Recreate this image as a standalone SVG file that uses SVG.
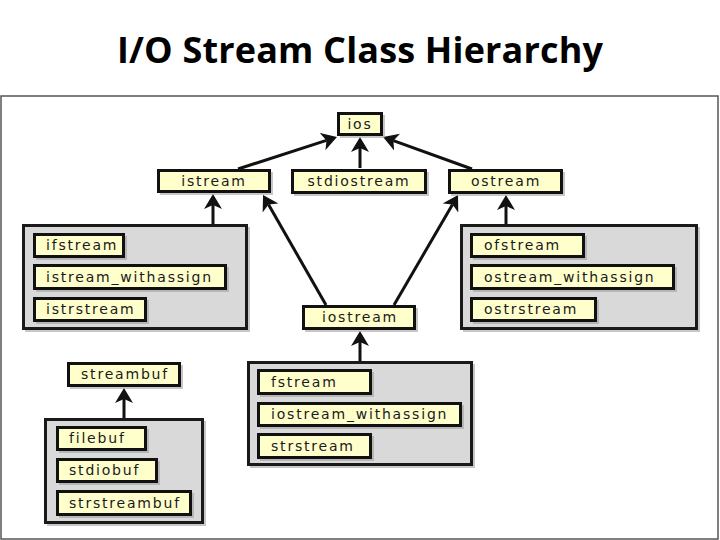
<svg xmlns="http://www.w3.org/2000/svg" width="720" height="540" viewBox="0 0 720 540">
<style>
.title{font-family:"Open Sans","Liberation Sans",sans-serif;font-weight:700;font-size:36px;fill:#000}
.frame{fill:#fff;stroke:#555;stroke-width:1.5}
.grp{fill:#d9d9d9;stroke:#1a1a1a;stroke-width:3}
.box{fill:#ffffcc;stroke:#111;stroke-width:3}
.sh{fill:#999;opacity:0.55}
.lbl{font-family:"DejaVu Sans",Verdana,sans-serif;font-size:14px;letter-spacing:1.8px;fill:#1a1a1a}
.c{text-anchor:middle}
.edge{fill:none;stroke:#111;stroke-width:3}
</style>
<defs>
<marker id="ah" viewBox="0 0 15 18" refX="4" refY="9" markerWidth="15" markerHeight="18" markerUnits="userSpaceOnUse" orient="auto">
<path d="M0,0 L15,9 L0,18 L4,9 z" fill="#111"/>
</marker>
</defs>
<rect width="720" height="540" fill="#fff"/>
<text class="title" x="360" y="63" text-anchor="middle" textLength="486" lengthAdjust="spacing">I/O Stream Class Hierarchy</text>
<rect class="frame" x="1" y="96" width="717" height="443"/>

<g id="connectors">
<path class="edge" marker-end="url(#ah)" d="M238,169 L326.5,140.4"/>
<path class="edge" marker-end="url(#ah)" d="M360,168 L360,148"/>
<path class="edge" marker-end="url(#ah)" d="M472,169 L393.4,140.7"/>
<path class="edge" marker-end="url(#ah)" d="M213,224 L213,205"/>
<path class="edge" marker-end="url(#ah)" d="M506,224 L506,206"/>
<path class="edge" marker-end="url(#ah)" d="M326,305 L268.5,204.5"/>
<path class="edge" marker-end="url(#ah)" d="M394,305 L452.5,204.5"/>
<path class="edge" marker-end="url(#ah)" d="M360,361 L360,342"/>
<path class="edge" marker-end="url(#ah)" d="M124,418 L124,399"/>
</g>

<g id="ios">
<rect class="sh" x="340" y="115" width="45" height="23"/>
<rect class="box" x="338.5" y="113.5" width="43" height="21"/>
<text class="lbl c" x="360" y="129">ios</text>
</g>
<g id="istream">
<rect class="sh" x="160" y="172" width="113" height="23"/>
<rect class="box" x="158.5" y="170.5" width="111" height="21"/>
<text class="lbl c" x="214" y="185.5">istream</text>
</g>
<g id="stdiostream">
<rect class="sh" x="294" y="172" width="135" height="24"/>
<rect class="box" x="292.5" y="170.5" width="133" height="22"/>
<text class="lbl c" x="359" y="186">stdiostream</text>
</g>
<g id="ostream">
<rect class="sh" x="451" y="172" width="114" height="24"/>
<rect class="box" x="449.5" y="170.5" width="112" height="22"/>
<text class="lbl c" x="506" y="186">ostream</text>
</g>
<g id="iostream">
<rect class="sh" x="305" y="308" width="113" height="24"/>
<rect class="box" x="303.5" y="306.5" width="111" height="22"/>
<text class="lbl c" x="360" y="322">iostream</text>
</g>
<g id="streambuf">
<rect class="sh" x="70" y="365" width="113" height="24"/>
<rect class="box" x="68.5" y="363.5" width="111" height="22"/>
<text class="lbl c" x="125" y="379">streambuf</text>
</g>

<g id="istream-derived">
<rect class="sh" x="25" y="227" width="225" height="105"/>
<rect class="grp" x="23.5" y="225.5" width="223" height="103"/>
<rect class="sh" x="36" y="236" width="91" height="24"/>
<rect class="box" x="34.5" y="234.5" width="89" height="22"/>
<text class="lbl" x="46" y="250">ifstream</text>
<rect class="sh" x="36" y="267" width="193" height="25"/>
<rect class="box" x="34.5" y="265.5" width="191" height="23"/>
<text class="lbl" x="46" y="282">istream_withassign</text>
<rect class="sh" x="36" y="300" width="113" height="24"/>
<rect class="box" x="34.5" y="298.5" width="111" height="22"/>
<text class="lbl" x="46" y="314">istrstream</text>
</g>

<g id="ostream-derived">
<rect class="sh" x="463" y="227" width="237" height="105"/>
<rect class="grp" x="461.5" y="225.5" width="235" height="103"/>
<rect class="sh" x="473" y="236" width="114" height="24"/>
<rect class="box" x="471.5" y="234.5" width="112" height="22"/>
<text class="lbl" x="484" y="250">ofstream</text>
<rect class="sh" x="473" y="267" width="204" height="25"/>
<rect class="box" x="471.5" y="265.5" width="202" height="23"/>
<text class="lbl" x="484" y="282">ostream_withassign</text>
<rect class="sh" x="473" y="300" width="126" height="24"/>
<rect class="box" x="471.5" y="298.5" width="124" height="22"/>
<text class="lbl" x="484" y="314">ostrstream</text>
</g>

<g id="iostream-derived">
<rect class="sh" x="250" y="364" width="225" height="104"/>
<rect class="grp" x="248.5" y="362.5" width="223" height="102"/>
<rect class="sh" x="260" y="372" width="114" height="25"/>
<rect class="box" x="258.5" y="370.5" width="112" height="23"/>
<text class="lbl" x="271" y="387">fstream</text>
<rect class="sh" x="260" y="405" width="204" height="24"/>
<rect class="box" x="258.5" y="403.5" width="202" height="22"/>
<text class="lbl" x="271" y="419">iostream_withassign</text>
<rect class="sh" x="260" y="436" width="114" height="25"/>
<rect class="box" x="258.5" y="434.5" width="112" height="23"/>
<text class="lbl" x="271" y="451">strstream</text>
</g>

<g id="streambuf-derived">
<rect class="sh" x="47" y="421" width="159" height="105"/>
<rect class="grp" x="45.5" y="419.5" width="157" height="103"/>
<rect class="sh" x="59" y="429" width="90" height="24"/>
<rect class="box" x="57.5" y="427.5" width="88" height="22"/>
<text class="lbl" x="69" y="443">filebuf</text>
<rect class="sh" x="59" y="461" width="101" height="24"/>
<rect class="box" x="57.5" y="459.5" width="99" height="22"/>
<text class="lbl" x="69" y="475">stdiobuf</text>
<rect class="sh" x="59" y="493" width="135" height="25"/>
<rect class="box" x="57.5" y="491.5" width="133" height="23"/>
<text class="lbl" x="69" y="508">strstreambuf</text>
</g>
</svg>
